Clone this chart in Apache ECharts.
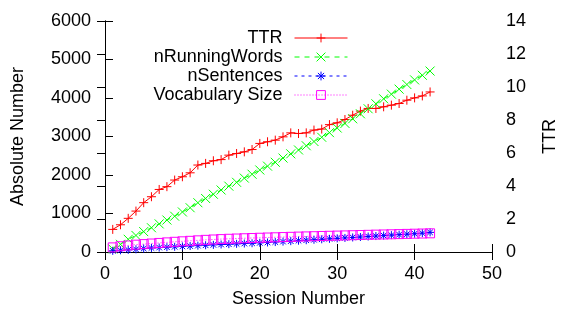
<!DOCTYPE html>
<html>
<head>
<meta charset="utf-8">
<script src="https://cdn.jsdelivr.net/npm/echarts@6/dist/echarts.min.js"></script>
<style>
  html, body { margin: 0; padding: 0; background: #fff; }
  #chart { width: 563px; height: 309px; }
</style>
</head>
<body>
<div id="chart"></div>
<script>
  // session numbers 1..42
  const sessions = [
    1, 2, 3, 4, 5, 6, 7, 8, 9, 10, 11, 12, 13, 14, 15, 16, 17, 18, 19, 20, 21,
    22, 23, 24, 25, 26, 27, 28, 29, 30, 31, 32, 33, 34, 35, 36, 37, 38, 39, 40, 41, 42
  ]

  // TTR (right axis)
  const ttr = [
    1.37, 1.65, 2.04, 2.48, 2.99, 3.35, 3.79, 3.96, 4.36, 4.56, 4.80, 5.27, 5.37, 5.53,
    5.60, 5.87, 5.97, 6.07, 6.21, 6.58, 6.68, 6.78, 6.98, 7.22, 7.18, 7.22, 7.39, 7.45,
    7.72, 7.83, 8.03, 8.29, 8.54, 8.70, 8.70, 8.80, 8.90, 9.00, 9.20, 9.34, 9.46, 9.70
  ]

  const nRunningWords = [
    80, 200, 330, 430, 530, 630, 730, 830, 930, 1040, 1150, 1280, 1390, 1500,
    1610, 1710, 1810, 1920, 2020, 2130, 2230, 2330, 2440, 2550, 2650, 2760, 2870, 2980,
    3100, 3220, 3340, 3460, 3590, 3720, 3850, 3980, 4100, 4230, 4350, 4470, 4590, 4700
  ]

  const nSentences = [
    30, 45, 55, 70, 90, 105, 115, 125, 135, 145, 155, 165, 175, 185,
    195, 203, 212, 220, 228, 238, 248, 258, 270, 282, 294, 306, 318, 330,
    342, 354, 366, 378, 390, 402, 414, 426, 438, 450, 462, 474, 490, 510
  ]

  const vocabularySize = [
    120, 150, 170, 190, 205, 220, 235, 250, 265, 278, 290, 303, 315, 325,
    335, 343, 350, 357, 363, 370, 376, 382, 388, 394, 400, 405, 410, 416,
    421, 426, 431, 436, 441, 446, 451, 455, 460, 465, 470, 475, 480, 485
  ]

  const xTicks = { min: 0, max: 50, interval: 10 }
  const leftTicks = { min: 0, max: 6000, interval: 1000 }
  const rightTicks = { min: 0, max: 14, interval: 2 }

  const FONT = '"Liberation Sans", Arial, sans-serif'
  const plusPath = 'path://M0,5 L10,5 M5,0 L5,10'
  const crossPath = 'path://M0,0 L10,10 M10,0 L0,10'
  const starPath = 'path://M0,5 L10,5 M5,0 L5,10 M1.5,1.5 L8.5,8.5 M8.5,1.5 L1.5,8.5'
  const squarePath = 'path://M0,0 L10,0 L10,10 L0,10 Z'

  function pairs(values) {
    return sessions.map((s, i) => [s, values[i]])
  }

  const chart = echarts.init(document.getElementById('chart'), null, { renderer: 'canvas' })

  const labelStyle = { color: '#000', fontFamily: FONT, fontSize: 18 }

  // one legend per row so that text is right aligned against the samples
  const legendNames = ['TTR', 'nRunningWords', 'nSentences', 'Vocabulary Size']
  const legends = legendNames.map((name, i) => ({
    data: [name],
    orient: 'vertical',
    align: 'right',
    right: 215,
    top: 29 + i * 19,
    padding: 0,
    itemWidth: 53,
    itemHeight: 11,
    selectedMode: false,
    lineStyle: { width: 1 },
    itemStyle: { color: 'rgba(0,0,0,0)', borderWidth: 1 },
    textStyle: { color: '#000', fontFamily: FONT, fontSize: 18, padding: [0, 7, 0, 0] }
  }))

  function lineSeries(name, values, color, symbol, size, dash, yIndex) {
    return {
      name: name,
      type: 'line',
      yAxisIndex: yIndex,
      data: pairs(values),
      symbol: symbol,
      symbolSize: size,
      showAllSymbol: true,
      lineStyle: { color: color, width: 1, type: dash },
      itemStyle: { color: 'rgba(0,0,0,0)', borderColor: color, borderWidth: 1 },
      emphasis: { disabled: true },
      animation: false
    }
  }

  chart.setOption({
    animation: false,
    backgroundColor: '#fff',
    // fixed plot box, no automatic shrinking for labels
    grid: { left: 105, right: 71, top: 21, bottom: 57, outerBoundsMode: 'none', containLabel: false },
    legend: legends,
    xAxis: [
      {
        type: 'value',
        position: 'bottom',
        min: xTicks.min,
        max: xTicks.max,
        interval: xTicks.interval,
        name: 'Session Number',
        nameLocation: 'middle',
        nameGap: 38,
        nameTextStyle: labelStyle,
        axisLine: { lineStyle: { color: '#000', width: 1 } },
        axisTick: { inside: true, length: 8, lineStyle: { color: '#000' } },
        axisLabel: Object.assign({ margin: 13 }, labelStyle),
        splitLine: { show: false }
      },
      {
        type: 'value',
        position: 'top',
        min: xTicks.min,
        max: xTicks.max,
        interval: xTicks.interval,
        axisLine: { lineStyle: { color: '#000', width: 1 } },
        axisTick: { inside: true, length: 8, lineStyle: { color: '#000' } },
        axisLabel: { show: false },
        splitLine: { show: false }
      }
    ],
    yAxis: [
      {
        type: 'value',
        position: 'left',
        min: leftTicks.min,
        max: leftTicks.max,
        interval: leftTicks.interval,
        name: 'Absolute Number',
        nameLocation: 'middle',
        nameGap: 78,
        nameTextStyle: labelStyle,
        axisLine: { show: true, lineStyle: { color: '#000', width: 1 } },
        axisTick: { show: true, inside: true, length: 8, lineStyle: { color: '#000' } },
        axisLabel: Object.assign({ margin: 14, formatter: (v) => String(v) }, labelStyle),
        splitLine: { show: false }
      },
      {
        type: 'value',
        position: 'right',
        min: rightTicks.min,
        max: rightTicks.max,
        interval: rightTicks.interval,
        name: 'TTR',
        nameLocation: 'middle',
        nameGap: 49,
        nameRotate: 90,
        nameTextStyle: labelStyle,
        axisLine: { show: true, lineStyle: { color: '#000', width: 1 } },
        axisTick: { show: true, inside: true, length: 8, lineStyle: { color: '#000' } },
        axisLabel: Object.assign({ margin: 14 }, labelStyle),
        splitLine: { show: false }
      }
    ],
    series: [
      lineSeries('TTR', ttr, '#ff0000', plusPath, 9, 'solid', 1),
      lineSeries('nRunningWords', nRunningWords, '#00ff00', crossPath, 9, [5, 5], 0),
      lineSeries('nSentences', nSentences, '#0000ff', starPath, 8, [3, 4], 0),
      lineSeries('Vocabulary Size', vocabularySize, '#ff00ff', squarePath, 9, [1, 2], 0)
    ]
  })

  window.addEventListener('resize', () => chart.resize())
</script>
</body>
</html>
